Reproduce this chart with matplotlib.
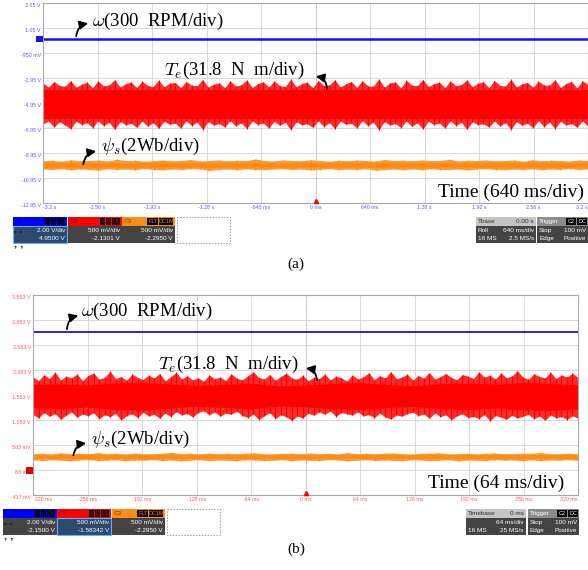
import numpy as np
import matplotlib
matplotlib.use("Agg")
import matplotlib.pyplot as plt
from matplotlib.patches import Rectangle

W, H = 588, 570  # output size, px (dpi 100)

plt.rcParams["font.family"] = ["Liberation Serif", "DejaVu Serif"]
plt.rcParams["mathtext.fontset"] = "cm"

# ---------------------------------------------------------------- panel (a)
a_xticks = [-3.2, -2.56, -1.92, -1.28, -0.64, 0.0, 0.64, 1.28, 1.92, 2.56, 3.2]
a_xlabels = ["-3.2 s", "-2.56 s", "-1.92 s", "-1.28 s", "-640 ms", "0 ms",
             "640 ms", "1.28 s", "1.92 s", "2.56 s", "3.2 s"]
a_ylabels = ["3.05 V", "1.05 V", "-950 mV", "-2.95 V", "-4.95 V", "-6.95 V",
             "-8.95 V", "-10.95 V", "-12.95 V"]
a_speed = 2.56  # divisions
a_torque_core_top = [0.52, 0.52]
a_torque_core_bot = [-0.62, -0.62]
a_torque_top = [
    0.80, 0.64, 0.86, 0.70, 0.67, 0.90, 0.63, 0.75, 0.83, 0.61,
    0.88, 0.69, 0.72, 0.93, 0.64, 0.77, 0.84, 0.62, 0.87, 0.70,
    0.66, 0.91, 0.65, 0.79, 0.82, 0.62, 0.86, 0.71, 0.69, 0.94,
    0.63, 0.75, 0.81, 0.61, 0.89, 0.67, 0.73, 0.92, 0.62, 0.77,
    0.85, 0.64, 0.88, 0.69, 0.66, 0.95, 0.65, 0.78, 0.83, 0.61,
    0.90, 0.70, 0.72, 0.93, 0.64, 0.76, 0.86, 0.62, 0.89, 0.68,
    0.67, 0.96, 0.63, 0.80, 0.84, 0.60, 0.91, 0.71, 0.70, 0.94,
    0.66, 0.77, 0.83, 0.62, 0.88, 0.69, 0.74, 0.92, 0.65, 0.79,
    0.85, 0.61, 0.90, 0.70, 0.68, 0.95, 0.64, 0.76, 0.82, 0.63,
    0.87, 0.72, 0.71, 0.93, 0.62, 0.78, 0.86, 0.60, 0.89, 0.74]
a_torque_bot = [
    -0.84, -0.72, -0.96, -0.75, -0.88, -1.03, -0.73, -0.86, -0.79, -0.98,
    -0.71, -0.91, -0.77, -1.05, -0.74, -0.87, -0.81, -0.97, -0.72, -0.93,
    -0.78, -1.01, -0.73, -0.85, -0.80, -0.99, -0.71, -0.90, -0.76, -1.06,
    -0.74, -0.88, -0.82, -0.96, -0.70, -0.92, -0.79, -1.02, -0.72, -0.86,
    -0.80, -1.00, -0.73, -0.89, -0.77, -1.07, -0.75, -0.87, -0.83, -0.97,
    -0.71, -0.94, -0.78, -1.03, -0.72, -0.85, -0.81, -0.99, -0.70, -0.91,
    -0.76, -1.08, -0.74, -0.88, -0.82, -0.98, -0.72, -0.93, -0.79, -1.04,
    -0.73, -0.86, -0.80, -1.00, -0.71, -0.90, -0.77, -1.05, -0.75, -0.87,
    -0.83, -0.96, -0.72, -0.92, -0.78, -1.06, -0.74, -0.89, -0.81, -0.99,
    -0.70, -0.94, -0.76, -1.02, -0.73, -0.88, -0.82, -0.97, -0.71, -0.95]
a_flux_core_top = [-2.38, -2.38]
a_flux_core_bot = [-2.59, -2.59]
a_flux_top = [
    -2.31, -2.29, -2.33, -2.27, -2.31, -2.30, -2.28, -2.32, -2.25, -2.30,
    -2.29, -2.33, -2.30, -2.28, -2.31, -2.30, -2.26, -2.32, -2.30, -2.28,
    -2.31, -2.29, -2.30, -2.24, -2.30, -2.32, -2.28, -2.30, -2.31, -2.27,
    -2.30, -2.33, -2.29, -2.31, -2.28, -2.30, -2.32, -2.26, -2.30, -2.29,
    -2.31, -2.28, -2.30, -2.30, -2.25, -2.32, -2.29, -2.30, -2.28, -2.31,
    -2.30, -2.28, -2.33, -2.27, -2.31, -2.29, -2.30, -2.32, -2.28, -2.30]
a_flux_bot = [
    -2.64, -2.66, -2.63, -2.67, -2.64, -2.66, -2.69, -2.63, -2.66, -2.64,
    -2.67, -2.62, -2.66, -2.68, -2.64, -2.66, -2.63, -2.64, -2.70, -2.66,
    -2.64, -2.67, -2.63, -2.66, -2.67, -2.64, -2.63, -2.66, -2.64, -2.68,
    -2.66, -2.62, -2.67, -2.64, -2.66, -2.63, -2.69, -2.66, -2.64, -2.67,
    -2.64, -2.67, -2.63, -2.66, -2.66, -2.64, -2.68, -2.64, -2.63, -2.66,
    -2.67, -2.64, -2.66, -2.63, -2.67, -2.64, -2.66, -2.62, -2.66, -2.64]

# ---------------------------------------------------------------- panel (b)
b_xticks = [-0.32, -0.256, -0.192, -0.128, -0.064, 0.0, 0.064, 0.128, 0.192, 0.256, 0.32]
b_xlabels = ["-320 ms", "-256 ms", "-192 ms", "-128 ms", "-64 ms", "0 ms",
             "64 ms", "128 ms", "192 ms", "256 ms", "320 ms"]
b_ylabels = ["3.583 V", "3.083 V", "2.583 V", "2.083 V", "1.583 V", "1.083 V",
             "583 mV", "83 mV", "-417 mV"]
b_speed = 2.52
b_torque_core_top = [0.42, 0.45, 0.40, 0.48, 0.50, 0.44, 0.38, 0.43, 0.47, 0.36, 0.40,
                     0.46, 0.49, 0.42, 0.37, 0.45, 0.48, 0.43, 0.50, 0.46, 0.41]
b_torque_core_bot = [-0.50, -0.55, -0.48, -0.58, -0.60, -0.52, -0.45, -0.50, -0.56, -0.44, -0.48,
                     -0.55, -0.58, -0.50, -0.46, -0.54, -0.58, -0.52, -0.60, -0.62, -0.55]
b_torque_top = [
    0.72, 0.58, 0.81, 0.66, 0.92, 0.60, 0.75, 0.69, 0.84, 0.57,
    0.78, 0.88, 0.63, 0.71, 0.95, 0.66, 0.74, 0.59, 0.83, 0.70,
    0.62, 0.79, 0.68, 0.86, 0.57, 0.73, 0.91, 0.64, 0.77, 0.60,
    0.69, 0.55, 0.80, 0.65, 0.72, 0.58, 0.85, 0.67, 0.61, 0.76,
    0.93, 0.70, 0.64, 0.82, 0.59, 0.74, 0.87, 0.68, 0.63, 0.79,
    0.57, 0.71, 0.66, 0.84, 0.60, 0.75, 0.69, 0.56, 0.80, 0.64,
    0.73, 0.89, 0.62, 0.77, 0.68, 0.94, 0.65, 0.71, 0.83, 0.60,
    0.78, 0.67, 0.90, 0.63, 0.74, 0.86, 0.70, 0.61, 0.82, 0.75,
    0.66, 0.92, 0.72, 0.79, 0.64, 0.88, 0.69, 0.76, 0.97, 0.71,
    0.63, 0.85, 0.74, 0.68, 0.91, 0.66, 0.80, 0.72, 0.87, 0.70]
b_torque_bot = [
    -0.78, -0.92, -0.70, -0.85, -0.74, -0.97, -0.81, -0.68, -0.89, -0.76,
    -0.83, -0.71, -0.95, -0.79, -0.87, -0.73, -1.00, -0.82, -0.75, -0.90,
    -0.69, -0.84, -0.77, -0.93, -0.72, -0.86, -0.66, -0.80, -0.74, -0.88,
    -0.70, -0.63, -0.79, -0.68, -0.85, -0.72, -0.77, -0.65, -0.82, -0.90,
    -0.76, -0.98, -0.83, -0.71, -0.94, -0.79, -0.87, -1.02, -0.84, -0.92,
    -0.73, -0.81, -0.68, -0.77, -0.64, -0.86, -0.70, -0.75, -0.80, -0.67,
    -0.84, -0.78, -0.91, -0.72, -0.88, -0.96, -0.80, -0.85, -0.74, -0.69,
    -0.82, -0.76, -0.93, -0.71, -0.87, -0.79, -0.99, -0.83, -0.75, -0.90,
    -0.86, -0.94, -0.78, -1.04, -0.82, -0.89, -0.97, -0.81, -0.92, -0.85,
    -0.77, -0.95, -0.84, -1.01, -0.80, -0.91, -0.86, -0.98, -0.83, -0.93]
b_flux_core_top = [-2.41, -2.41]
b_flux_core_bot = [-2.56, -2.56]
b_flux_top = [
    -2.35, -2.33, -2.36, -2.31, -2.35, -2.33, -2.35, -2.30, -2.35, -2.33,
    -2.36, -2.32, -2.35, -2.35, -2.33, -2.29, -2.35, -2.33, -2.36, -2.32,
    -2.35, -2.33, -2.35, -2.33, -2.31, -2.35, -2.36, -2.33, -2.33, -2.35,
    -2.32, -2.35, -2.33, -2.36, -2.30, -2.35, -2.33, -2.35, -2.33, -2.32,
    -2.35, -2.36, -2.33, -2.33, -2.31, -2.35, -2.35, -2.33, -2.36, -2.33,
    -2.32, -2.35, -2.35, -2.33, -2.33, -2.30, -2.35, -2.35, -2.33, -2.35]
b_flux_bot = [
    -2.60, -2.62, -2.59, -2.61, -2.63, -2.60, -2.59, -2.62, -2.61, -2.59,
    -2.63, -2.60, -2.61, -2.59, -2.62, -2.60, -2.64, -2.61, -2.59, -2.62,
    -2.60, -2.61, -2.63, -2.59, -2.60, -2.62, -2.61, -2.59, -2.63, -2.60,
    -2.61, -2.62, -2.59, -2.60, -2.63, -2.61, -2.59, -2.62, -2.60, -2.61,
    -2.63, -2.59, -2.60, -2.62, -2.61, -2.59, -2.64, -2.60, -2.61, -2.62,
    -2.59, -2.61, -2.60, -2.63, -2.59, -2.62, -2.60, -2.61, -2.59, -2.62]

BLUE, RED, ORANGE = "#1414e6", "#ff0000", "#ff8c14"


def panel(rect, xt, xlabels, ylabels, lab_col, speed, speed_lw,
          tq_ct, tq_cb, tq_top, tq_bot, fx_ct, fx_cb, fx_top, fx_bot):
    x0, y0, x1, y1 = rect  # pixel box
    ax = fig.add_axes([x0 / W, 1 - y1 / H, (x1 - x0) / W, (y1 - y0) / H])
    ax.set_axisbelow(True)
    t0, t1 = xt[0], xt[-1]
    ax.set_xlim(t0, t1)
    ax.set_ylim(-4, 4)
    ax.set_xticks(xt)
    ax.set_xticklabels(xlabels, fontsize=3.8, color=lab_col, family="Liberation Sans")
    xl = ax.get_xticklabels()
    xl[0].set_ha("left")
    xl[-1].set_ha("right")
    ax.set_yticks(np.arange(4, -5, -1))
    ax.set_yticklabels(ylabels, fontsize=3.8, color=lab_col, family="Liberation Sans")
    for lbl in ax.get_yticklabels():
        lbl.set_va("top")
    ax.tick_params(length=0, pad=1.5)
    ax.grid(color="#d2d2d2", lw=0.6)
    for s in ax.spines.values():
        s.set_color("#a8a8a8")
        s.set_linewidth(0.8)
    ax.axvline(0, color="#606060", lw=0.7, ls=(0, (1.5, 1.5)), zorder=0.5)

    # speed
    ax.plot([t0, t1], [speed, speed], color=BLUE, lw=speed_lw, solid_capstyle="butt")
    # torque: jagged envelope, solid core, spikes
    tp = np.linspace(t0, t1, len(tq_top))
    ax.fill_between(tp, tq_bot, tq_top, color="#ff2a2a", lw=0)
    ax.fill_between(np.linspace(t0, t1, len(tq_ct)), tq_cb, tq_ct, color=RED, lw=0)
    ax.vlines(tp, tq_bot, tq_top, color=RED, lw=0.8)
    # flux
    fp = np.linspace(t0, t1, len(fx_top))
    ax.fill_between(fp, fx_bot, fx_top, color="#ff9a30", lw=0)
    ax.fill_between(np.linspace(t0, t1, len(fx_ct)), fx_cb, fx_ct, color=ORANGE, lw=0)
    ax.vlines(fp, fx_bot, fx_top, color=ORANGE, lw=0.6)
    return ax


fig = plt.figure(figsize=(W / 100, H / 100), dpi=100)

ax_a = panel((43, 3, 588, 203), a_xticks, a_xlabels, a_ylabels, "#5a5aff", a_speed, 1.8,
             a_torque_core_top, a_torque_core_bot, a_torque_top, a_torque_bot,
             a_flux_core_top, a_flux_core_bot, a_flux_top, a_flux_bot)
ax_b = panel((33, 295, 578, 495), b_xticks, b_xlabels, b_ylabels, "#ff5a5a", b_speed, 1.3,
             b_torque_core_top, b_torque_core_bot, b_torque_top, b_torque_bot,
             b_flux_core_top, b_flux_core_bot, b_flux_top, b_flux_bot)

# overlay in pixel coordinates for labels, arrows and scope status boxes
ov = fig.add_axes([0, 0, 1, 1], zorder=10)
ov.set_xlim(0, W)
ov.set_ylim(H, 0)
ov.axis("off")
ov.patch.set_alpha(0)

LBL = 13.5


def label(x, y, s, tail, head, rad):
    ov.text(x, y, s, fontsize=LBL, va="center", ha="left")
    ov.annotate("", xy=head, xytext=tail,
                arrowprops=dict(arrowstyle="-|>,head_length=0.5,head_width=0.25",
                                color="black", lw=1.3,
                                connectionstyle=f"arc3,rad={rad}"))


# panel (a) labels
label(92, 21, r"$\omega$(300  RPM/div)", (76, 39), (91, 23), -0.45)
label(164, 70, r"$T_e$(31.8  N  m/div)", (327, 92), (313, 76), 0.5)
label(101, 146, r"$\psi_s$(2Wb/div)", (83, 167), (99, 151), -0.45)
ov.text(584, 192, "Time (640 ms/div)", fontsize=14, ha="right", va="center")
# panel (b) labels
label(81, 311, r"$\omega$(300  RPM/div)", (67, 332), (81, 315), -0.45)
label(158, 364, r"$T_e$(31.8  N  m/div)", (317, 383), (303, 368), 0.5)
label(91, 439, r"$\psi_s$(2Wb/div)", (73, 458), (89, 443), -0.45)
ov.text(564, 483, "Time (64 ms/div)", fontsize=14, ha="right", va="center")

# channel markers
ov.add_patch(Rectangle((36, 36), 7, 6, fc=BLUE, ec="none"))
ov.add_patch(Rectangle((26, 467), 7, 7, fc="#dd0000", ec="none"))
ov.plot([315.5], [201], marker="^", color=RED, ms=3)
ov.plot([305.5], [493], marker="^", color=RED, ms=3)

SANS = "Liberation Sans"
FS = 4.6


def chan_box(x, y, w, name, badges, col, name_col, rows, hl=False):
    ov.add_patch(Rectangle((x, y), w, 9, fc=col, ec="none"))
    ov.text(x + 2, y + 4.8, name, fontsize=FS, color=name_col, va="center", family=SANS)
    bx = x + w - 1
    for b in reversed(badges):
        bw = 3.0 * len(b) + 3
        bx -= bw
        ov.add_patch(Rectangle((bx, y + 1), bw - 0.6, 7, fc="black", ec="none"))
        ov.text(bx + bw / 2 - 0.3, y + 4.8, b, fontsize=FS - 0.6, color=col,
                ha="center", va="center", family=SANS)
    body = "#2c4a6e" if hl else "#444444"
    ov.add_patch(Rectangle((x, y + 9), w, 17, fc=body,
                           ec="#6fa8ff" if hl else "none", lw=0.8))
    for i, r in enumerate(rows):
        ov.text(x + w - 2, y + 13.5 + 8 * i, r, fontsize=FS, color="white",
                ha="right", va="center", family=SANS)


def time_box(x, y, w, head, head_val, rows):
    ov.add_patch(Rectangle((x, y), w, 9, fc="#c4c4c4", ec="none"))
    ov.text(x + 2, y + 4.8, head, fontsize=FS, color="#303030", va="center", family=SANS)
    ov.text(x + w - 2, y + 4.8, head_val, fontsize=FS, color="#303030",
            ha="right", va="center", family=SANS)
    ov.add_patch(Rectangle((x, y + 9), w, 17, fc="#444444", ec="none"))
    for i, (l, r) in enumerate(rows):
        ov.text(x + 2, y + 13.5 + 8 * i, l, fontsize=FS, color="white", va="center", family=SANS)
        ov.text(x + w - 2, y + 13.5 + 8 * i, r, fontsize=FS, color="white",
                ha="right", va="center", family=SANS)


def trig_box(x, y, w, rows):
    ov.add_patch(Rectangle((x, y), w, 9, fc="#8c8c8c", ec="none"))
    ov.text(x + 2, y + 4.8, "Trigger", fontsize=FS, color="white", va="center", family=SANS)
    for i, b in enumerate(["C2", "DC"]):
        bx = x + w - 22 + 11 * i
        ov.add_patch(Rectangle((bx, y + 1), 10, 7, fc="black", ec="none"))
        ov.text(bx + 5, y + 4.8, b, fontsize=FS - 0.6, color="white",
                ha="center", va="center", family=SANS)
    ov.add_patch(Rectangle((x, y + 9), w, 17, fc="#444444", ec="none"))
    for i, (l, r) in enumerate(rows):
        ov.text(x + 2, y + 13.5 + 8 * i, l, fontsize=FS, color="white", va="center", family=SANS)
        ov.text(x + w - 2, y + 13.5 + 8 * i, r, fontsize=FS, color="white",
                ha="right", va="center", family=SANS)


def status_row(y, xs, c_rows, hl, tb_x, tb_head, tb_val, tb_rows, tr_x, tr_w):
    chan_box(xs[0], y, 54, "C1", ["F", "B", "D1"], "#0000ff", "#000090", c_rows[0], hl == 0)
    chan_box(xs[1], y, 54, "C2", ["F", "B", "D1"], "#ff0000", "#800000", c_rows[1], hl == 1)
    chan_box(xs[2], y, 53, "C3", ["FLT", "DC1M"], "#ff8c14", "#7a3c00", c_rows[2], hl == 2)
    ov.add_patch(Rectangle((xs[3], y), 53, 26, fc="none", ec="#a0a0a0", lw=0.7, ls=(0, (1.5, 1.5))))
    ov.text(xs[0] + 1, y + 15, "\u2022 \u2022", fontsize=6, color="#202020", family=SANS, va="center")
    ov.text(xs[0] + 1, y + 26, ", ,", fontsize=8, color="#202020", family=SANS,
            va="center", weight="bold")
    time_box(tb_x, y, 60, tb_head, tb_val, tb_rows)
    trig_box(tr_x, y, tr_w, [("Stop", "100 mV"), ("Edge", "Positive")])


status_row(217, [13, 68, 122, 177],
           [["2.00 V/div", "4.9500 V"], ["500 mV/div", "-2.1301 V"], ["500 mV/div", "-2.2950 V"]],
           0, 476, "Tbase", "0.00 s", [("Roll", "640 ms/div"), ("16 MS", "2.5 MS/s")], 537, 51)
status_row(509, [3, 57, 112, 167],
           [["2.00 V/div", "-2.1500 V"], ["500 mV/div", "-1.58342 V"], ["500 mV/div", "-2.2950 V"]],
           1, 466, "Timebase", "0 ms", [("", "64 ms/div"), ("16 MS", "25 MS/s")], 528, 51)

ov.text(296, 264, "(a)", fontsize=11, ha="center", va="center")
ov.text(296, 549, "(b)", fontsize=11, ha="center", va="center")

fig.savefig("out.png", dpi=100)
